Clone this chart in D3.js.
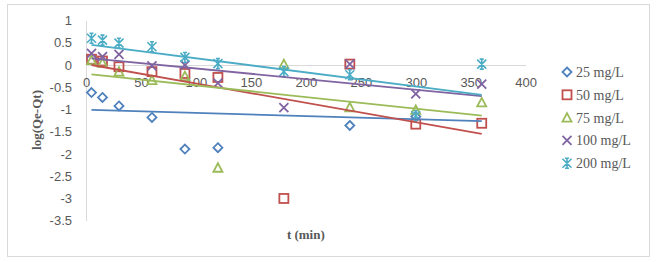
<!DOCTYPE html>
<html>
<head>
<meta charset="utf-8">
<script src="https://cdn.jsdelivr.net/npm/d3@7"></script>
<style>
body { margin: 0; background: #fff; }
svg { display: block; }
</style>
</head>
<body>
<svg id="chart" width="661" height="262"></svg>
<script>
// times (min)
var times = [5, 15, 30, 60, 90, 120, 180, 240, 300, 360];
// log(Qe-Qt), null = no point
var c25 = [-0.62, -0.73, -0.92, -1.18, -1.89, -1.86, null, -1.36, -1.16, null];
var c50 = [0.13, 0.09, -0.04, -0.15, -0.19, -0.28, -3.0, 0.02, -1.33, -1.31];
var c75 = [0.11, 0.05, -0.15, -0.34, -0.25, -2.31, 0.02, -0.95, -1.01, -0.84];
var c100 = [0.26, 0.19, 0.24, -0.02, 0.0, -0.41, -0.96, 0.02, -0.65, -0.43];
var c200 = [0.60, 0.56, 0.49, 0.41, 0.17, 0.03, -0.15, -0.22, -1.14, 0.02];
// trendline values at first and last time
var trendStart = [-1.01, 0.0, -0.21, 0.15, 0.45];
var trendEnd = [-1.26, -1.55, -1.14, -0.70, -0.67];

var seriesNames = ["25 mg/L", "50 mg/L", "75 mg/L", "100 mg/L", "200 mg/L"];
var seriesColors = ["#4F81BD", "#C0504D", "#9BBB59", "#8064A2", "#4BACC6"];
var xTicks = [0, 50, 100, 150, 200, 250, 300, 350, 400];
var yTicks = [1, 0.5, 0, -0.5, -1, -1.5, -2, -2.5, -3, -3.5];

var allSeries = [c25, c50, c75, c100, c200];

var svg = d3.select('#chart');

// outer border
svg.append('rect')
    .attr('x', 7.5).attr('y', 4.5)
    .attr('width', 642).attr('height', 252)
    .attr('fill', '#fff')
    .attr('stroke', '#d9d9d9');

var x = d3.scaleLinear().domain([0, 400]).range([86, 525.7]);
var y = d3.scaleLinear().domain([-3.5, 1]).range([220.7, 20.5]);

// y axis
var yAxis = svg.append('g')
    .attr('transform', 'translate(86,0)')
    .call(d3.axisLeft(y).tickValues(yTicks).tickSize(0).tickPadding(14)
        .tickFormat(function (d) { return d; }));
yAxis.select('.domain').attr('stroke', '#d9d9d9');
yAxis.selectAll('text')
    .attr('fill', '#595959')
    .style('font-family', '"Liberation Sans", Arial, sans-serif')
    .style('font-size', '13px');

// x axis at y = 0
var xAxis = svg.append('g')
    .attr('transform', 'translate(0,' + y(0) + ')')
    .call(d3.axisBottom(x).tickValues(xTicks).tickSize(0).tickPadding(13));
xAxis.select('.domain').attr('stroke', '#d9d9d9');
xAxis.selectAll('text')
    .attr('fill', '#595959')
    .style('font-family', '"Liberation Sans", Arial, sans-serif')
    .style('font-size', '13px');

// axis titles
svg.append('text')
    .attr('x', x(200))
    .attr('y', 239)
    .attr('text-anchor', 'middle')
    .attr('fill', '#595959')
    .style('font-family', '"Liberation Serif", "DejaVu Serif", serif')
    .style('font-weight', 'bold')
    .style('font-size', '13px')
    .text('t (min)');

svg.append('text')
    .attr('transform', 'translate(41,120) rotate(-90)')
    .attr('text-anchor', 'middle')
    .attr('fill', '#595959')
    .style('font-family', '"Liberation Serif", "DejaVu Serif", serif')
    .style('font-weight', 'bold')
    .style('font-size', '13px')
    .text('log(Qe-Qt)');

// marker shapes
function drawMarker(g, kind, color) {
    if (kind == 0) {
        g.append('path').attr('d', 'M0,-4.5L4.5,0L0,4.5L-4.5,0Z')
            .attr('fill', 'none').attr('stroke', color).attr('stroke-width', 1.8);
    } else if (kind == 1) {
        g.append('rect').attr('x', -4.5).attr('y', -4.5).attr('width', 9).attr('height', 9)
            .attr('fill', 'none').attr('stroke', color).attr('stroke-width', 1.8);
    } else if (kind == 2) {
        g.append('path').attr('d', 'M0,-4.5L4.5,4L-4.5,4Z')
            .attr('fill', 'none').attr('stroke', color).attr('stroke-width', 1.8);
    } else if (kind == 3) {
        g.append('path').attr('d', 'M-4.5,-4.5L4.5,4.5M4.5,-4.5L-4.5,4.5')
            .attr('fill', 'none').attr('stroke', color).attr('stroke-width', 1.8);
    } else {
        g.append('path').attr('d', 'M-4.5,-4.5L4.5,4.5M4.5,-4.5L-4.5,4.5M0,-5L0,5M-2,-5L2,-5M-2,5L2,5')
            .attr('fill', 'none').attr('stroke', color).attr('stroke-width', 1.6);
    }
}

// points
allSeries.forEach(function (vals, s) {
    var pts = times.map(function (t, i) { return { t: t, v: vals[i] }; })
        .filter(function (d) { return d.v !== null; });
    svg.append('g').selectAll('g')
        .data(pts)
        .enter()
        .append('g')
        .attr('transform', function (d) { return 'translate(' + x(d.t) + ',' + y(d.v) + ')'; })
        .each(function () { drawMarker(d3.select(this), s, seriesColors[s]); });
});

// trendlines
allSeries.forEach(function (vals, s) {
    svg.append('line')
        .attr('x1', x(times[0]))
        .attr('y1', y(trendStart[s]))
        .attr('x2', x(times[times.length - 1]))
        .attr('y2', y(trendEnd[s]))
        .attr('stroke', seriesColors[s])
        .attr('stroke-width', 1.8);
});

// legend
var legend = svg.append('g').selectAll('g')
    .data(seriesNames)
    .enter()
    .append('g')
    .attr('transform', function (d, i) { return 'translate(567,' + (72 + i * 22.8) + ')'; });
legend.each(function (d, i) { drawMarker(d3.select(this), i, seriesColors[i]); });
legend.append('text')
    .attr('x', 9)
    .attr('y', 5)
    .attr('fill', '#595959')
    .style('font-family', '"Liberation Serif", "DejaVu Serif", serif')
    .style('font-size', '14px')
    .text(function (d) { return d; });
</script>
</body>
</html>
